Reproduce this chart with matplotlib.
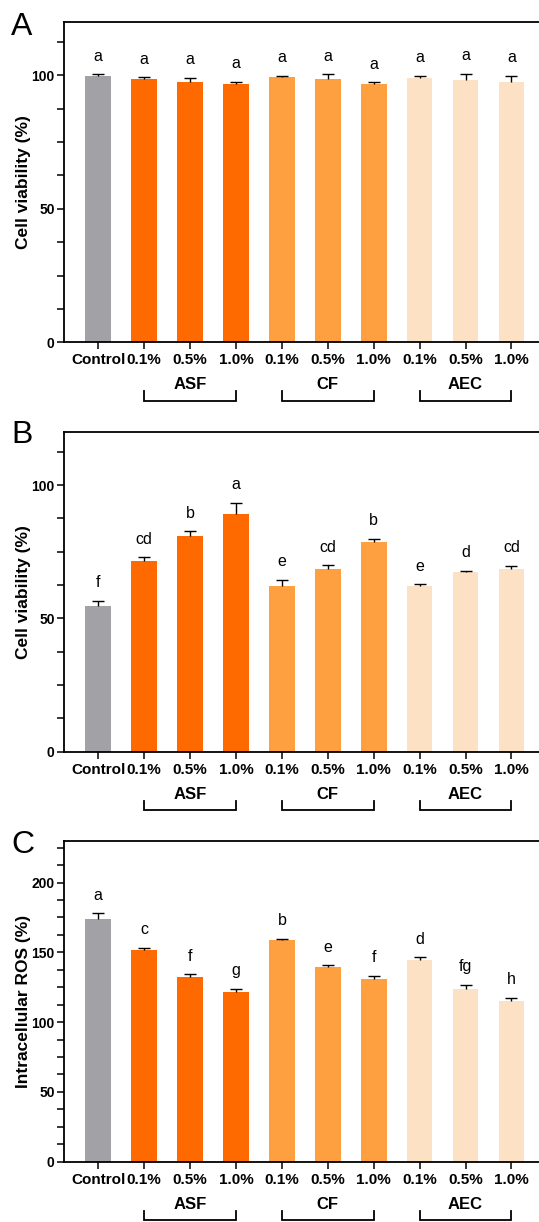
import numpy as np
import matplotlib
matplotlib.use("Agg")
import matplotlib.pyplot as plt
import matplotlib.transforms as mtransforms
from matplotlib.ticker import MultipleLocator

plt.rcParams['font.family'] = ['Liberation Sans', 'DejaVu Sans']

tick_labels = ["Control", "0.1%", "0.5%", "1.0%", "0.1%", "0.5%", "1.0%", "0.1%", "0.5%", "1.0%"]
groups = ["ASF", "CF", "AEC"]
group_spans = [(1, 3), (4, 6), (7, 9)]

a_mean = [99.6, 98.6, 97.3, 96.8, 99.3, 98.6, 96.8, 98.9, 98.3, 97.6]
a_err = [0.7, 0.7, 1.7, 0.7, 0.5, 1.8, 0.6, 0.8, 2.3, 2.1]
a_sig = ["a", "a", "a", "a", "a", "a", "a", "a", "a", "a"]

b_mean = [54.6, 71.4, 81.0, 89.2, 62.0, 68.6, 78.8, 62.0, 67.3, 68.6]
b_err = [2.1, 1.5, 1.6, 4.1, 2.5, 1.3, 1.0, 0.8, 0.5, 1.1]
b_sig = ["f", "cd", "b", "a", "e", "cd", "b", "e", "d", "cd"]

c_mean = [173.8, 151.7, 132.1, 121.7, 158.6, 139.8, 131.0, 144.6, 123.6, 115.0]
c_err = [4.3, 1.7, 2.2, 2.2, 1.2, 0.9, 2.1, 1.8, 3.3, 2.4]
c_sig = ["a", "c", "f", "g", "b", "e", "f", "d", "fg", "h"]

colors = ["#A1A1A6", "#FF6A00", "#FF6A00", "#FF6A00",
          "#FFA040", "#FFA040", "#FFA040",
          "#FDE1C4", "#FDE1C4", "#FDE1C4"]

W, H = 539, 1222
fig = plt.figure(figsize=(W / 100, H / 100), dpi=100)

left_px = 64.3
panels = [
    ("A", a_mean, a_err, a_sig, "Cell viability (%)", 120, 21.7, 342.3, 35),
    ("B", b_mean, b_err, b_sig, "Cell viability (%)", 120, 431.7, 751.7, 443),
    ("C", c_mean, c_err, c_sig, "Intracellular ROS (%)", 230, 840.7, 1161.7, 853),
]

x = np.arange(len(tick_labels))
for letter, mean, err, sig, ylabel, ytop, top_px, bot_px, base_px in panels:
    ax = fig.add_axes([left_px / W, 1 - bot_px / H, 1 - left_px / W, (bot_px - top_px) / H])
    ax.bar(x, mean, width=0.56, color=colors, zorder=2)
    eb = ax.errorbar(x, mean, yerr=[np.zeros(len(err)), err], fmt='none',
                     ecolor='black', elinewidth=1.0, capsize=4.2, capthick=1.0, zorder=3)
    eb[1][0].set_visible(False)
    ax.set_xlim(-0.74, 9.6)
    ax.set_ylim(0, ytop)
    ax.yaxis.set_major_locator(MultipleLocator(50))
    ax.yaxis.set_minor_locator(MultipleLocator(12.5))
    ax.set_xticks(x)
    ax.set_xticklabels(tick_labels, fontsize=11, fontweight='bold')
    for lab in ax.get_yticklabels():
        lab.set_fontweight('bold')
        lab.set_fontsize(10)
    ax.tick_params(axis='both', which='both', direction='out', length=5, width=1.1, pad=2)
    ax.tick_params(axis='y', which='minor', length=5)
    ax.tick_params(axis='x', pad=3)
    for s in ['left', 'bottom', 'top']:
        ax.spines[s].set_linewidth(1.3)
    ax.spines['right'].set_visible(False)

    for xi, m, e, s in zip(x, mean, err, sig):
        ax.annotate(s, (xi, m + e), xytext=(0, 9.7), textcoords='offset points',
                    ha='center', va='baseline', fontsize=11.5)

    trans = mtransforms.blended_transform_factory(ax.transData, ax.transAxes)
    hpx = bot_px - top_px
    y_lab = -(385 - 342.3) / hpx
    y_line = -(401 - 342.3) / hpx
    y_tick = -(391.5 - 342.3) / hpx
    for g, (g0, g1) in zip(groups, group_spans):
        ax.text((g0 + g1) / 2, y_lab, g, transform=trans, ha='center', va='center',
                fontsize=12, fontweight='bold')
        ax.plot([g0, g0, g1, g1], [y_tick, y_line, y_line, y_tick], transform=trans,
                color='black', lw=1.3, clip_on=False, solid_joinstyle='miter')

    fig.text(24 / W, 1 - (top_px + bot_px) / 2 / H, ylabel, rotation=90, ha='center', va='center',
             fontsize=12.5, fontweight='bold')
    fig.text(11 / W, 1 - base_px / H, letter, ha='left', va='baseline', fontsize=23)

fig.savefig("out.png", dpi=100)
